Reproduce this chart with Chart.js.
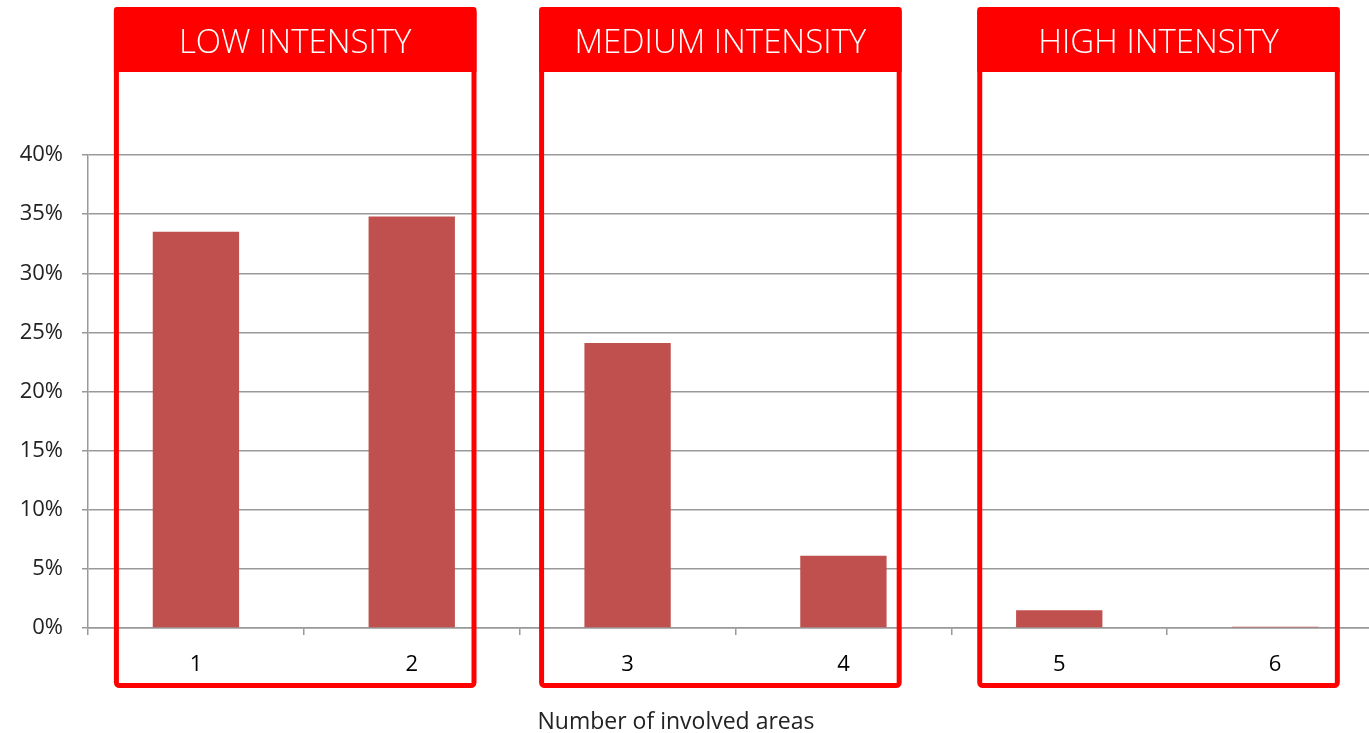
<!DOCTYPE html>
<html>
<head>
<meta charset="utf-8">
<script src="https://cdn.jsdelivr.net/npm/chart.js@4/dist/chart.umd.min.js"></script>
<style>
  html, body { margin: 0; padding: 0; background: #fff; overflow: hidden; }
  #wrap { position: relative; width: 1369px; height: 733px; overflow: hidden; }
  #box { position: absolute; left: 0; top: 0; width: 1383px; height: 733px; }
  #xtitle { position: absolute; left: 0; width: 1352px; top: 704px; text-align: center;
    font-family: "Open Sans", sans-serif; font-size: 23px; color: #222; }
</style>
</head>
<body>
<div id="wrap">
  <div id="box"><canvas id="c"></canvas></div>
  <div id="xtitle">Number of involved areas</div>
</div>
<script>
const categories = ['1', '2', '3', '4', '5', '6'];
const shares = [33.5, 34.8, 24.1, 6.1, 1.5, 0.1];
const yTicks = [0, 5, 10, 15, 20, 25, 30, 35, 40];
const groupLabels = ['LOW INTENSITY', 'MEDIUM INTENSITY', 'HIGH INTENSITY'];
const groupStart = [0.12, 2.09, 4.12];
const groupEnd = [1.80, 3.77, 5.80];

const groupBoxes = {
  id: 'groupBoxes',
  afterDatasetsDraw(chart) {
    const ctx = chart.ctx;
    const x = chart.scales.x;
    const cw = x.getPixelForValue(1) - x.getPixelForValue(0);
    const x0 = x.getPixelForValue(0) - cw / 2;
    const top = 7, headerH = 65, bottom = 688, bw = 5;
    ctx.save();
    groupLabels.forEach((lab, i) => {
      const l = x0 + groupStart[i] * cw;
      const r = x0 + groupEnd[i] * cw;
      ctx.fillStyle = '#ff0000';
      ctx.beginPath();
      ctx.roundRect(l, top, r - l, headerH, [3, 3, 0, 0]);
      ctx.fill();
      ctx.strokeStyle = '#ff0000';
      ctx.lineWidth = bw;
      ctx.beginPath();
      ctx.roundRect(l + bw / 2, top + bw / 2, r - l - bw, bottom - top - bw, 3);
      ctx.stroke();
      ctx.fillStyle = '#ffffff';
      ctx.font = '300 33px "Open Sans", sans-serif';
      ctx.textAlign = 'center';
      ctx.textBaseline = 'middle';
      ctx.fillText(lab, (l + r) / 2, top + headerH / 2 + 4);
    });
    ctx.restore();
  }
};

new Chart(document.getElementById('c'), {
  type: 'bar',
  data: {
    labels: categories,
    datasets: [{
      data: shares,
      backgroundColor: '#c0504d',
      borderWidth: 0,
      barPercentage: 0.4,
      categoryPercentage: 1.0
    }]
  },
  options: {
    responsive: true,
    maintainAspectRatio: false,
    animation: false,
    layout: { padding: { top: 155, left: 0, right: 0, bottom: 0 } },
    plugins: { legend: { display: false }, tooltip: { enabled: false } },
    scales: {
      x: {
        afterFit: s => { s.height = 105; },
        grid: { drawOnChartArea: false, drawTicks: true, tickLength: 7, color: '#999', lineWidth: 1.5 },
        border: { display: true, color: '#999', width: 1.5 },
        ticks: { color: '#000', padding: 17, font: { family: '"Open Sans", sans-serif', size: 22 } }
      },
      y: {
        min: 0, max: 40,
        afterFit: s => { s.width = 88; },
        afterBuildTicks: s => { s.ticks = yTicks.map(v => ({ value: v })); },
        grid: { color: '#999', lineWidth: 1.5, tickLength: 6 },
        border: { display: true, color: '#999', width: 1.5 },
        ticks: {
          color: '#222', padding: 19,
          font: { family: '"Open Sans", sans-serif', size: 22 },
          callback: v => v + '%'
        }
      }
    }
  },
  plugins: [groupBoxes]
});
</script>
</body>
</html>
